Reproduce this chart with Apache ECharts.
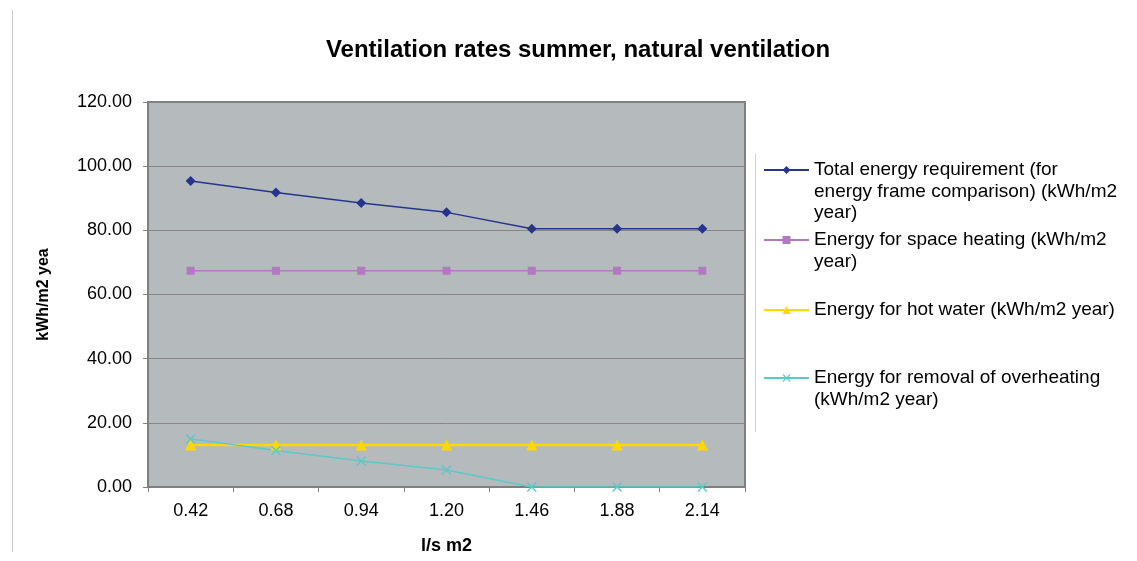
<!DOCTYPE html>
<html>
<head>
<meta charset="utf-8">
<script src="https://cdn.jsdelivr.net/npm/echarts@6/dist/echarts.min.js"></script>
<style>
  html, body { margin: 0; padding: 0; background: #ffffff; }
  #chart { width: 1137px; height: 561px; }
</style>
</head>
<body>
<div id="chart"></div>
<script>
// Ventilation rate categories (l/s m2)
const categories = ['0.42', '0.68', '0.94', '1.20', '1.46', '1.88', '2.14'];

// Energy figures, kWh/m2 year
const totalEnergy = [95.4, 91.8, 88.5, 85.6, 80.5, 80.5, 80.5];
const spaceHeating = [67.4, 67.4, 67.4, 67.4, 67.4, 67.4, 67.4];
const hotWater = [13.1, 13.1, 13.1, 13.1, 13.1, 13.1, 13.1];
const overheatingRemoval = [15.0, 11.4, 8.1, 5.3, 0.0, 0.0, 0.0];

const seriesNames = [
  'Total energy requirement (for energy frame comparison) (kWh/m2 year)',
  'Energy for space heating (kWh/m2 year)',
  'Energy for hot water (kWh/m2 year)',
  'Energy for removal of overheating (kWh/m2 year)'
];

// Wrapped legend lines for each series
const legendLines = [
  ['Total energy requirement (for', 'energy frame comparison) (kWh/m2', 'year)'],
  ['Energy for space heating (kWh/m2', 'year)'],
  ['Energy for hot water (kWh/m2 year)'],
  ['Energy for removal of overheating', '(kWh/m2 year)']
];

const yTicks = { min: 0, max: 120, interval: 20 };

const FONT = 'Liberation Sans, Arial, sans-serif';
const LH = 21.5;
const crossSymbol = 'path://M0,1 L1,0 L5,4 L9,0 L10,1 L6,5 L10,9 L9,10 L5,6 L1,10 L0,9 L4,5 Z';

// One legend block per series so each can sit at its own height.
// Legend text is centred on the icon, so blank lines are put in front
// of the wrapped text to keep the icon level with the first line.
const legendIconCenters = [170, 240, 310, 378];
const legends = seriesNames.map(function (name, i) {
  const n = legendLines[i].length;
  const blank = new Array(n).join('\n');
  const boxH = (2 * n - 1) * LH;
  return {
    data: [name],
    orient: 'vertical',
    left: 763,
    top: legendIconCenters[i] - boxH / 2,
    padding: 0,
    itemWidth: 45,
    itemHeight: 10,
    itemGap: 0,
    selectedMode: false,
    formatter: function () { return blank + legendLines[i].join('\n'); },
    textStyle: {
      fontFamily: FONT,
      fontSize: 19,
      color: '#000',
      lineHeight: LH
    }
  };
});

const chart = echarts.init(document.getElementById('chart'), null, { renderer: 'canvas' });

chart.setOption({
  backgroundColor: '#ffffff',
  animation: false,
  title: {
    text: 'Ventilation rates summer, natural ventilation',
    left: 573,
    textAlign: 'center',
    top: 33,
    textStyle: { fontFamily: FONT, fontSize: 24, fontWeight: 'bold', color: '#000' }
  },
  legend: legends,
  grid: {
    left: 148, right: 392, top: 102, bottom: 74,
    show: true,
    backgroundColor: '#b5babd',
    borderColor: '#7f7f7f',
    borderWidth: 2
  },
  xAxis: {
    type: 'category',
    data: categories,
    boundaryGap: true,
    name: 'l/s m2',
    nameLocation: 'middle',
    nameGap: 50,
    nameTextStyle: { fontFamily: FONT, fontSize: 18, fontWeight: 'bold', color: '#000' },
    axisLine: { lineStyle: { color: '#7f7f7f', width: 2 } },
    axisTick: { show: true, length: 5, alignWithLabel: false, lineStyle: { color: '#7f7f7f' } },
    axisLabel: { fontFamily: FONT, fontSize: 18, color: '#000', margin: 15 },
    splitLine: { show: false }
  },
  yAxis: {
    type: 'value',
    min: yTicks.min, max: yTicks.max, interval: yTicks.interval,
    name: 'kWh/m2 year',
    nameLocation: 'middle',
    nameGap: 96,
    nameRotate: 90,
    nameTruncate: { maxWidth: 96, ellipsis: '' },
    nameTextStyle: { fontFamily: FONT, fontSize: 16, fontWeight: 'bold', color: '#000' },
    axisLine: { show: true, lineStyle: { color: '#7f7f7f', width: 2 } },
    axisTick: { show: true, length: 5, lineStyle: { color: '#7f7f7f' } },
    axisLabel: {
      fontFamily: FONT, fontSize: 18, color: '#000', margin: 16,
      formatter: function (v) { return v.toFixed(2); }
    },
    splitLine: { show: true, lineStyle: { color: '#868686', width: 1 } }
  },
  graphic: [
    { type: 'line', shape: { x1: 12.5, y1: 10, x2: 12.5, y2: 552 }, style: { stroke: '#c8c8c8', lineWidth: 1 } },
    { type: 'line', shape: { x1: 755.5, y1: 153, x2: 755.5, y2: 432 }, style: { stroke: '#d0d0d0', lineWidth: 1 } }
  ],
  series: [
    {
      name: seriesNames[0], type: 'line', data: totalEnergy,
      symbol: 'diamond', symbolSize: 10,
      lineStyle: { color: '#26358c', width: 1.5 },
      itemStyle: { color: '#26358c' }
    },
    {
      name: seriesNames[1], type: 'line', data: spaceHeating,
      symbol: 'rect', symbolSize: 8,
      lineStyle: { color: '#b079c0', width: 1.5 },
      itemStyle: { color: '#b079c0' }
    },
    {
      name: seriesNames[2], type: 'line', data: hotWater,
      symbol: 'triangle', symbolSize: 11,
      lineStyle: { color: '#ffd800', width: 2.5 },
      itemStyle: { color: '#ffd800' }
    },
    {
      name: seriesNames[3], type: 'line', data: overheatingRemoval,
      symbol: crossSymbol, symbolSize: 10,
      lineStyle: { color: '#5cc8c8', width: 1.5 },
      itemStyle: { color: '#5cc8c8' }
    }
  ]
});
</script>
</body>
</html>
